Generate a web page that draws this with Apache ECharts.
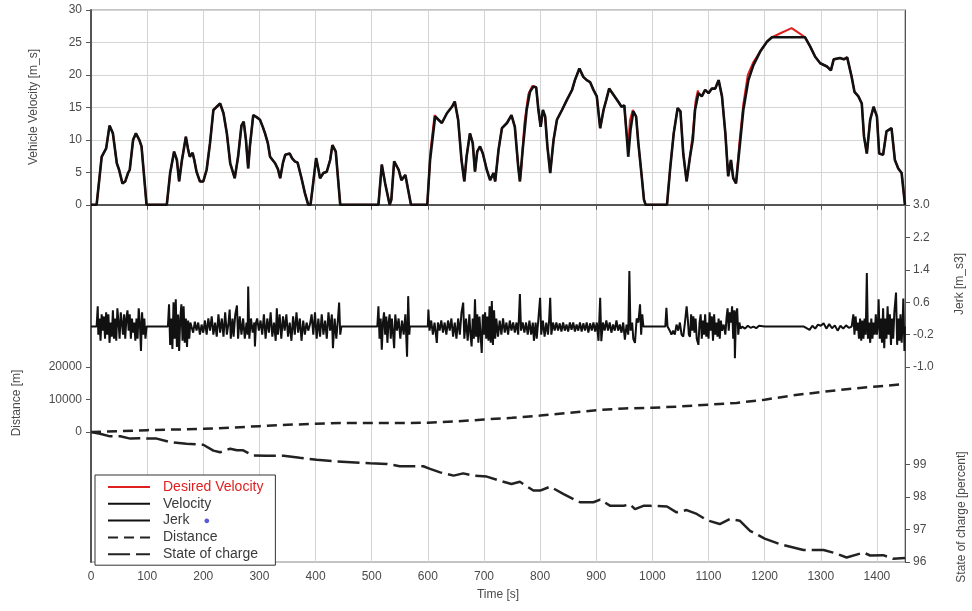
<!DOCTYPE html>
<html><head><meta charset="utf-8">
<script src="https://cdn.jsdelivr.net/npm/echarts@6/dist/echarts.min.js"></script>
<style>html,body{margin:0;padding:0;background:#fff}#c{width:972px;height:611px}</style>
</head><body><div id="c"></div>
<script>
// ---- data ----
const timeTicks = [0,100,200,300,400,500,600,700,800,900,1000,1100,1200,1300,1400];
const velocityTicks = [0,5,10,15,20,25,30];
const jerkTicks = [-1.0,-0.2,0.6,1.4,2.2,3.0];
const distanceTicks = [0,10000,20000];
const socTicks = [96,97,98,99];

const velocityPoints = [[0,0],[10,0],[19,7.4],[27,8.7],[33,12.2],[36,12.3],[39,11],[46,6.4],[50,5.4],[56,3.3],[61,3.6],[66,4.9],[69,5.4],[75,10],[80,11],[86,10],[90,9],[99,0],
[135,0],[141,4.9],[148,8.2],[153,6.9],[157,3.6],[162,6.9],[164,7.9],[169,10.5],[173,8.5],[176,7.4],[181,8],[184,6.9],[188,5.1],[194,3.6],[200,3.6],[206,5.4],[212,9.5],[218,14.6],[230,15.6],[236,14.1],[242,11],
[248,6.4],[256,4.1],[262,7.4],[268,12.2],[272,12.8],[276,10],[280,5.6],[283,9],[289,13.8],[295,13.5],[301,13.1],[306,12],[310,11],[315,9.5],[319,7.4],[328,6.4],[333,5.5],[337,4.1],[342,6.5],[346,7.7],[354,7.9],[358,7.2],[363,6.7],[368,6.5],[375,4.1],[381,1.8],[387,0],[391,0],[395,2.8],[401,7.2],[405,5.5],[408,4.1],[414,4.9],[420,5.1],[426,6.9],[430,9.2],[436,8.2],[444,0],
[512,0],[518,6.2],[524,3.3],[532,0],[535,0.8],[540,6.7],[548,5.4],[553,3.8],[560,4.6],[565,2.3],[570,0],
[599,0],[604,6.9],[613,13.6],[619,13.1],[625,12.6],[634,14.1],[643,15.1],[648,15.9],[654,13.1],[660,6.9],[665,3.6],[669,7.4],[675,11],[680,9.5],[684,5.1],[688,8.2],[693,9],[698,7.9],[705,5.4],[711,3.8],[717,4.9],[720,3.6],[726,8.5],[732,11.8],[741,12.6],[749,13.8],[755,12],[761,5.9],[764,3.6],[769,8.5],[776,14.6],[782,17.4],[788,18.2],[793,18.1],[797,14.6],[801,12],[805,14.6],[809,13.6],[813,9],[818,4.9],[824,10],[830,13.1],[839,14.6],[848,16.2],[857,17.7],[862,19.2],[870,21],[877,19.7],[883,19.2],[889,18.9],[895,17.7],[901,16.7],[907,11.8],[913,14.6],[918,16.2],[923,17.9],[931,16.9],[939,15.9],[945,15.1],[950,15.3],[954,11],[957,7.4],[961,11.5],[966,14.4],[971,13.6],[975,9.5],[981,4.4],[985,0.8],[988,0],
[1026,0],[1032,5.9],[1038,11],[1045,14.9],[1050,14.4],[1055,7.9],[1061,3.6],[1067,7.4],[1072,10],[1076,14.6],[1082,17.2],[1088,16.7],[1094,17.7],[1100,17.2],[1106,17.9],[1112,17.9],[1118,19.2],[1124,16.7],[1130,11],[1135,4.4],[1140,6.9],[1144,4.1],[1149,3.3],[1155,8.5],[1162,14.6],[1171,19.2],[1180,21.5],[1192,23.6],[1204,25.1],[1213,25.8],[1272,25.8],[1281,24.4],[1290,22.8],[1299,21.8],[1311,21.3],[1318,20.7],[1323,22.4],[1334,22.6],[1341,22.4],[1347,22.7],[1355,19.7],[1360,17.4],[1367,16.7],[1373,15.6],[1377,10.5],[1382,7.9],[1388,13.1],[1394,15.1],[1400,13.6],[1404,7.9],[1411,7.7],[1417,11.3],[1426,11.8],[1432,6.9],[1438,5.6],[1444,4.9],[1450,0]];

// stretches where the desired velocity differs from the achieved velocity
const desiredSegments = [
 [[600,0],[605,8.5],[612,13.8]],
 [[766,5],[772,12.5],[779,17],[786,18.3]],
 [[954,11],[957,9],[960,13],[965,14.6]],
 [[1072,11],[1077,16],[1081,17.6]],
 [[1155,9.5],[1162,15.5],[1170,20],[1180,22]],
 [[1204,25.1],[1213,25.8],[1230,26.5],[1248,27.2],[1262,26.4],[1272,25.8]]
];

const jerkPoints = [[0,0],[10,0],[12,0.5],[13,-0.2],[15,0.2],[17,-0.35],[19,0.3],[21,-0.1],[23,0.25],[25,-0.3],[27,0.35],[29,-0.2],[31,0.3],[33,-0.4],[35,0.1],[37,-0.25],[39,0.4],[41,-0.3],[43,0.2],[45,-0.35],[47,0.45],[49,0.1],[51,-0.3],[53,0.35],[55,0.1],[57,-0.2],[59,0.3],[61,-0.3],[63,0.2],[65,0.4],[67,-0.1],[69,0.3],[71,-0.3],[73,0.2],[75,-0.15],[77,0.1],[79,-0.35],[81,0.2],[83,-0.3],[85,0.45],[87,0.1],[89,-0.6],[91,0.35],[93,-0.2],[95,0.2],[97,-0.3],[99,0],
[137,0],[139,0.55],[141,-0.45],[143,0.2],[145,-0.55],[147,0.6],[149,-0.3],[151,0.67],[153,-0.5],[155,0.3],[157,-0.6],[159,0.2],[161,0.55],[163,-0.35],[165,0.5],[167,-0.4],[169,0.2],[171,-0.5],[173,0.15],[175,-0.3],[177,0.1],
[179,0.1],[182,-0.15],[185,0.12],[188,-0.1],[191,0.1],[194,-0.2],[197,0.05],[200,-0.15],[203,0.15],[206,-0.2],[209,0.2],[212,-0.1],[215,0.25],[218,-0.2],[221,0.1],[224,-0.25],[227,0.3],[230,-0.15],[233,0.2],[236,-0.25],[239,0.35],[242,-0.2],[245,0.1],[247,0.42],[249,-0.3],[252,0.2],[254,-0.25],[257,0.3],[260,0.52],[262,-0.3],[265,0.25],[268,-0.2],[271,0.2],[274,-0.3],[277,0.1],[279,-0.2],[280,0.99],[282,-0.3],[285,0.2],[288,-0.15],[291,0.1],[292,-0.49],[294,0.1],
[296,0.2],[299,-0.1],[302,0.15],[305,-0.2],[308,0.3],[311,-0.3],[314,0.2],[317,-0.15],[320,0.35],[323,-0.25],[326,0.1],[329,-0.35],[331,0.45],[333,-0.2],[336,0.3],[339,-0.3],[342,0.25],[345,-0.1],[348,0.3],[351,-0.25],[354,0.1],[357,-0.35],[360,0.25],[363,-0.2],[366,0.35],[369,-0.15],[372,0.2],[375,-0.35],[378,0.15],[381,-0.2],[384,0.1],[387,-0.1],[390,0.05],[393,0.3],[396,-0.2],[399,0.35],[402,-0.3],[405,0.2],[408,-0.25],[411,0.3],[414,-0.2],[417,0.15],[420,-0.3],[423,0.35],[426,-0.1],[429,0.3],[431,-0.53],[434,0.2],[437,-0.3],[440,0.2],[442,0.59],[444,-0.2],[446,0],
[510,0],[512,0.5],[514,-0.3],[516,0.2],[518,-0.57],[520,0.1],[522,0.35],[524,-0.2],[526,0.25],[528,-0.4],[530,0.1],[532,0.3],[534,-0.3],[536,0.2],[538,-0.15],[540,-0.53],[542,0.3],[545,-0.1],[548,0.2],[551,-0.3],[554,0.15],[557,-0.2],[560,0.3],[563,-0.74],[565,0.75],[567,-0.2],[568,0],
[600,0],[601,0.42],[603,-0.1],[606,0.15],[609,-0.2],[612,0.1],[616,-0.4],[618,0.1],[621,-0.1],[624,0.15],[627,-0.15],[630,0.1],[633,-0.2],[636,0.15],[639,-0.1],[642,0.2],[645,-0.25],[648,0.1],[651,-0.3],[654,0.2],[657,-0.2],[660,0.35],[663,0.59],[665,-0.3],[668,0.2],[671,-0.35],[674,0.3],[676,-0.2],[678,-0.49],[680,0.2],[682,-0.3],[684,0.67],[686,-0.25],[688,0.3],[690,-0.4],[692,0.25],[694,-0.2],[696,-0.65],[698,0.3],[700,-0.2],[702,0.35],[704,-0.3],[706,0.25],[708,-0.35],[710,0.5],[712,-0.4],[714,0.63],[716,-0.45],[718,0.4],[720,-0.3],[722,0.2],[725,-0.25],[728,0.15],[731,-0.2],[734,0.2],[737,-0.15],[740,0.1],[743,-0.2],[746,0.15],[749,-0.1],[752,0.1],[755,-0.15],[758,0.1],[761,-0.2],[764,0.8],[766,-0.1],[769,0.1],[772,-0.15],[775,0.1],[778,-0.2],[781,0.15],[784,-0.2],[787,0.1],[789,-0.35],[792,0.1],[794,-0.3],[797,0.2],[800,0.71],[802,-0.2],[805,0.15],[808,-0.25],[811,0.1],[814,-0.2],[816,0.15],[818,0.71],[820,-0.2],[823,0.1],[826,-0.1],[829,0.1],[832,-0.1],[835,0.08],[838,-0.12],[841,0.1],[844,-0.1],[847,0.05],[850,-0.12],[853,0.1],[856,-0.08],[859,0.1],[862,-0.12],[865,0.05],[868,-0.1],[871,0.1],[874,-0.12],[877,0.08],[880,-0.1],[883,0.1],[886,-0.15],[889,0.08],[892,-0.1],[895,0.1],[898,-0.12],[901,0.1],[904,-0.35],[907,0.71],[909,-0.36],[912,0.1],[915,-0.1],[918,0.15],[921,-0.1],[924,0.1],[927,-0.15],[930,0.05],[933,-0.1],[936,0.15],[939,-0.1],[942,0.05],[945,-0.15],[948,0.1],[951,-0.32],[954,0.05],[957,-0.2],[959,1.37],[961,-0.1],[964,0.1],[966,-0.3],[969,-0.4],[972,0.2],[975,0.1],[978,0.55],[980,-0.2],[982,0.3],[984,0],
[1023,0],[1025,0.46],[1027,0],[1031,-0.1],[1034,-0.2],[1037,-0.1],[1040,-0.2],[1043,0.05],[1046,-0.1],[1049,0.1],[1052,-0.2],[1055,-0.25],[1058,0.1],[1061,0.5],[1063,0.2],[1065,-0.2],[1067,-0.25],[1069,0.3],[1071,-0.1],[1073,0.25],[1075,-0.15],[1077,0.2],[1079,-0.3],[1082,-0.45],[1084,0.1],[1086,0.3],[1088,-0.3],[1090,0.15],[1092,-0.2],[1094,0.3],[1096,-0.25],[1098,0.1],[1100,-0.3],[1102,0.35],[1104,-0.1],[1106,0.25],[1108,-0.35],[1110,0.3],[1112,-0.2],[1114,0.1],[1116,-0.25],[1118,0.2],[1120,-0.3],[1122,0.15],[1124,-0.1],[1127,0.05],[1130,-0.2],[1132,0.2],[1134,0.45],[1136,-0.1],[1138,0.35],[1140,0.1],[1142,0.5],[1144,-0.3],[1146,0.4],[1147,-0.78],[1149,0.3],[1151,0.45],[1153,-0.2],[1155,0.1],[1157,-0.05],[1160,0],
[1165,-0.05],[1170,0.02],[1175,-0.03],[1180,0],[1185,-0.04],[1190,0.02],[1200,0],[1270,0],[1280,-0.08],[1285,0.02],[1290,-0.05],[1295,0.05],[1300,0.02],[1305,0.08],[1310,-0.05],[1315,0.06],[1320,-0.04],[1325,0.03],[1330,-0.1],[1335,0.02],[1340,-0.05],[1345,0.03],[1350,-0.03],[1355,0],
[1358,0.3],[1360,-0.2],[1362,0.25],[1364,-0.1],[1366,0.1],[1368,-0.3],[1370,0.2],[1372,-0.35],[1374,0.15],[1376,-0.3],[1378,0.2],[1380,-0.2],[1382,1.32],[1384,-0.3],[1386,0.1],[1388,-0.4],[1390,0.2],[1392,-0.3],[1394,0.1],[1396,-0.2],[1398,0.3],[1400,-0.2],[1402,0.15],[1403,0.67],[1405,-0.3],[1407,0.2],[1409,-0.4],[1411,0.45],[1413,-0.53],[1415,0.2],[1417,-0.3],[1419,0.5],[1421,-0.2],[1423,0.3],[1425,-0.45],[1427,0.2],[1429,-0.3],[1431,0.35],[1434,0.84],[1436,-0.45],[1438,0.2],[1440,-0.35],[1442,0.3],[1444,-0.4],[1446,0.2],[1447,0.69],[1449,-0.6],[1450,0]];

const distancePoints = [[0,0],[50,300],[100,610],[150,800],[200,1000],[250,1400],[300,1830],[350,2250],[400,2570],[450,2800],[500,2800],[550,2830],[600,2870],[650,3300],[700,3880],[750,4400],[800,5100],[850,5900],[900,6730],[950,7300],[1000,7500],[1050,7900],[1100,8470],[1150,9000],[1200,10000],[1250,11300],[1300,12350],[1350,13300],[1400,14070],[1450,14800]];

const socPoints = [[0,100],[16,99.95],[34,99.87],[52,99.87],[70,99.8],[87,99.81],[117,99.8],[141,99.69],[170,99.64],[200,99.61],[218,99.43],[230,99.38],[248,99.49],[260,99.44],[271,99.44],[289,99.28],[313,99.27],[343,99.27],[372,99.21],[402,99.15],[438,99.1],[497,99.04],[527,99.02],[550,98.95],[592,98.95],[604,98.87],[622,98.76],[646,98.66],[663,98.73],[681,98.66],[705,98.63],[729,98.5],[749,98.4],[764,98.47],[788,98.2],[800,98.2],[818,98.32],[842,98.09],[871,97.84],[895,97.84],[907,97.92],[925,97.73],[949,97.73],[960,97.78],[969,97.63],[984,97.73],[996,97.73],[1026,97.71],[1043,97.53],[1061,97.6],[1079,97.48],[1097,97.29],[1120,97.17],[1138,97.32],[1156,97.27],[1174,96.96],[1200,96.72],[1227,96.55],[1269,96.37],[1305,96.37],[1322,96.29],[1346,96.14],[1376,96.29],[1388,96.2],[1411,96.21],[1429,96.1],[1450,96.12]];

// ---- build desired velocity: achieved trace with the deviating stretches swapped in ----
function buildDesired() {
  let pts = velocityPoints.filter(p => !desiredSegments.some(s => p[0] >= s[0][0] && p[0] <= s[s.length-1][0]));
  desiredSegments.forEach(s => { pts = pts.concat(s); });
  return pts.sort((a,b) => a[0]-b[0]);
}

const labelColor = '#4a4a4a';
const font = 'Liberation Sans, Arial, sans-serif';
const tickStyle = {show:true, inside:false, length:5, lineStyle:{color:'#555'}};
const plain = v => String(v);

const chart = echarts.init(document.getElementById('c'), null, {renderer:'canvas'});
chart.setOption({
  animation:false,
  backgroundColor:'#fff',
  textStyle:{fontFamily:font},
  grid:{left:91, right:67, top:10, height:552, show:true, borderColor:'#888', borderWidth:1, containLabel:false},
  xAxis:{type:'value', min:0, max:1450,
    name:'Time [s]', nameLocation:'middle', nameGap:27, nameTextStyle:{color:labelColor, fontSize:12, fontFamily:font},
    axisLine:{show:true, lineStyle:{color:'#555', width:2}},
    axisTick:Object.assign({customValues:timeTicks}, tickStyle),
    axisLabel:{customValues:timeTicks, formatter:plain, color:labelColor, fontSize:12, margin:9, fontFamily:font},
    splitLine:{show:true, lineStyle:{color:'#d4d4d4', width:1}}},
  yAxis:[
    {type:'value', position:'left', min:-55, max:30, interval:5,
      axisLine:{show:true, lineStyle:{color:'#555', width:2}},
      axisTick:Object.assign({customValues:velocityTicks}, tickStyle),
      axisLabel:{customValues:velocityTicks, formatter:plain, color:labelColor, fontSize:12, margin:9, fontFamily:font},
      splitLine:{show:true, lineStyle:{color:'#d4d4d4', width:1}}},
    {type:'value', position:'right', min:-5.8, max:7.8,
      axisLine:{show:true, lineStyle:{color:'#555', width:1}},
      axisTick:Object.assign({customValues:jerkTicks}, tickStyle),
      axisLabel:{customValues:jerkTicks, formatter:v => Number(v).toFixed(1), color:labelColor, fontSize:12, margin:8, fontFamily:font},
      splitLine:{show:false}},
    {type:'value', position:'left', min:-40000, max:130000,
      axisLine:{show:false},
      axisTick:Object.assign({customValues:distanceTicks}, tickStyle),
      axisLabel:{customValues:distanceTicks, formatter:plain, color:labelColor, fontSize:12, margin:9, fontFamily:font},
      splitLine:{show:false}},
    {type:'value', position:'right', min:96, max:113,
      axisLine:{show:false},
      axisTick:Object.assign({customValues:socTicks}, tickStyle),
      axisLabel:{customValues:socTicks, formatter:plain, color:labelColor, fontSize:12, margin:8, fontFamily:font},
      splitLine:{show:false}}
  ],
  legend:{orient:'vertical', left:95, top:475,
    backgroundColor:'#fff', borderColor:'#333', borderWidth:1, padding:[5,12,4,12],
    itemWidth:42, itemHeight:13, itemGap:2.8,
    itemStyle:{opacity:0},
    textStyle:{color:'#3a3a3a', fontSize:14, fontFamily:font, padding:[0,0,0,8],
      rich:{dot:{color:'#5a5ad8', fontSize:11, padding:[0,0,0,14]}}},
    formatter:n => n === 'Jerk' ? 'Jerk{dot|●}' : n,
    data:[{name:'Desired Velocity', textStyle:{color:'#e02020'}}, 'Velocity', 'Jerk', 'Distance', 'State of charge']},
  graphic:[
    {type:'text', x:34, y:107, rotation:Math.PI/2, style:{text:'Vehicle Velocity [m_s]', fill:labelColor, font:'12px '+font, align:'center', verticalAlign:'middle'}},
    {type:'text', x:17, y:403, rotation:Math.PI/2, style:{text:'Distance [m]', fill:labelColor, font:'12px '+font, align:'center', verticalAlign:'middle'}},
    {type:'text', x:960, y:284, rotation:Math.PI/2, style:{text:'Jerk [m_s3]', fill:labelColor, font:'12px '+font, align:'center', verticalAlign:'middle'}},
    {type:'text', x:962, y:517, rotation:Math.PI/2, style:{text:'State of charge [percent]', fill:labelColor, font:'12px '+font, align:'center', verticalAlign:'middle'}}
  ],
  series:[
    {name:'Desired Velocity', type:'line', yAxisIndex:0, data:buildDesired(), symbol:'none', lineStyle:{color:'#e02020', width:2}, itemStyle:{color:'#e02020'}, z:2},
    {name:'Velocity', type:'line', yAxisIndex:0, data:velocityPoints, symbol:'none', lineStyle:{color:'#111', width:2.6}, itemStyle:{color:'#111'}, z:3},
    {name:'Jerk', type:'line', yAxisIndex:1, data:jerkPoints, symbol:'none', lineStyle:{color:'#111', width:2}, itemStyle:{color:'#111'}, z:3},
    {name:'Distance', type:'line', yAxisIndex:2, data:distancePoints, symbol:'none', lineStyle:{color:'#222', width:2.5, type:[10,6]}, itemStyle:{color:'#222'}, z:3},
    {name:'State of charge', type:'line', yAxisIndex:3, data:socPoints, symbol:'none', lineStyle:{color:'#222', width:2.5, type:[22,6]}, itemStyle:{color:'#222'}, z:3}
  ]
});
</script></body></html>
